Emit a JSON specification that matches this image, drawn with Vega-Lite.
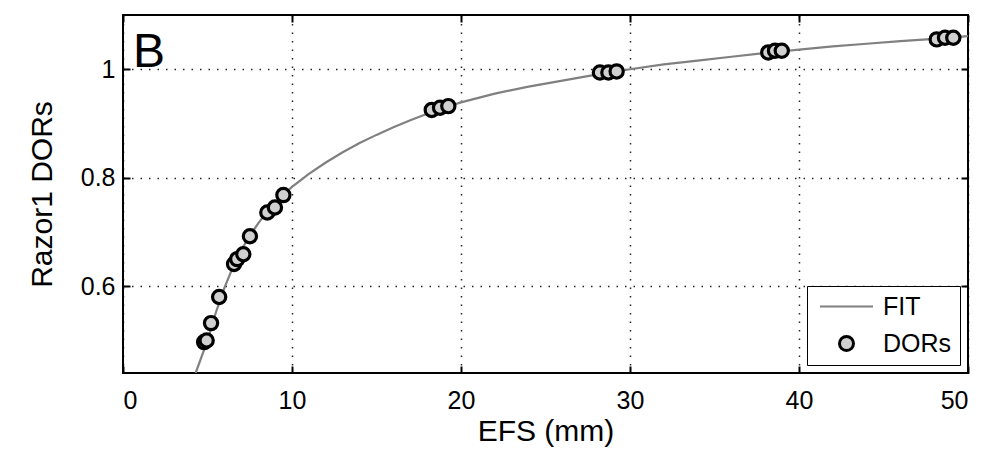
{
  "$schema": "https://vega.github.io/schema/vega-lite/v6.json",
  "autosize": {"type": "none"},
  "width": 845,
  "height": 358,
  "padding": {"left": 123, "top": 15, "right": 39, "bottom": 78},
  "background": "white",
  "config": {
    "view": {"stroke": "black", "strokeWidth": 2},
    "font": "Liberation Sans",
    "axis": {
      "labelFont": "Liberation Sans", "labelFontSize": 25, "labelColor": "black",
      "titleFont": "Liberation Sans", "titleFontSize": 30, "titleFontWeight": "normal", "titleColor": "black",
      "domain": false, "tickColor": "black", "tickWidth": 2, "tickSize": -7,
      "gridColor": "black", "gridDash": [1.5, 7], "gridWidth": 1.5, "gridOpacity": 0.85
    }
  },
  "datasets": {
    "curve": [
      {"efs": 4.3, "dor": 0.44}, {"efs": 5, "dor": 0.5}, {"efs": 5.5, "dor": 0.552}, {"efs": 6, "dor": 0.597},
      {"efs": 6.5, "dor": 0.635}, {"efs": 7, "dor": 0.667}, {"efs": 7.5, "dor": 0.693}, {"efs": 8, "dor": 0.716},
      {"efs": 8.5, "dor": 0.736}, {"efs": 9, "dor": 0.754}, {"efs": 9.5, "dor": 0.769}, {"efs": 10, "dor": 0.783},
      {"efs": 11, "dor": 0.807}, {"efs": 12, "dor": 0.828}, {"efs": 13, "dor": 0.847}, {"efs": 14, "dor": 0.864},
      {"efs": 15, "dor": 0.879}, {"efs": 16, "dor": 0.893}, {"efs": 17, "dor": 0.906}, {"efs": 18, "dor": 0.918},
      {"efs": 19, "dor": 0.929}, {"efs": 20, "dor": 0.939}, {"efs": 22, "dor": 0.955}, {"efs": 24, "dor": 0.968},
      {"efs": 26, "dor": 0.979}, {"efs": 28, "dor": 0.99}, {"efs": 30, "dor": 1.0}, {"efs": 32, "dor": 1.009},
      {"efs": 34, "dor": 1.016}, {"efs": 36, "dor": 1.023}, {"efs": 38, "dor": 1.03}, {"efs": 40, "dor": 1.036},
      {"efs": 42, "dor": 1.042}, {"efs": 44, "dor": 1.047}, {"efs": 46, "dor": 1.052}, {"efs": 48, "dor": 1.056},
      {"efs": 50, "dor": 1.061}
    ],
    "dors": [
      {"efs": 4.8, "dor": 0.497}, {"efs": 4.95, "dor": 0.5}, {"efs": 5.21, "dor": 0.532}, {"efs": 5.69, "dor": 0.58},
      {"efs": 6.57, "dor": 0.641}, {"efs": 6.76, "dor": 0.65}, {"efs": 7.12, "dor": 0.659}, {"efs": 7.51, "dor": 0.692},
      {"efs": 8.54, "dor": 0.736}, {"efs": 8.99, "dor": 0.745}, {"efs": 9.49, "dor": 0.768},
      {"efs": 18.27, "dor": 0.925}, {"efs": 18.76, "dor": 0.929}, {"efs": 19.25, "dor": 0.932},
      {"efs": 28.22, "dor": 0.994}, {"efs": 28.72, "dor": 0.994}, {"efs": 29.21, "dor": 0.996},
      {"efs": 38.18, "dor": 1.031}, {"efs": 38.58, "dor": 1.034}, {"efs": 38.98, "dor": 1.034},
      {"efs": 48.15, "dor": 1.055}, {"efs": 48.64, "dor": 1.058}, {"efs": 49.13, "dor": 1.058}
    ],
    "labels": [{"efs": 1.54, "dor": 1.03, "text": "B"}]
  },
  "layer": [
    {
      "data": {"name": "curve"},
      "mark": {"type": "line", "strokeWidth": 2.2, "clip": true},
      "encoding": {
        "x": {"field": "efs", "type": "quantitative", "scale": {"domain": [0, 50], "nice": false},
              "axis": {"orient": "bottom", "title": "EFS (mm)", "values": [0, 10, 20, 30, 40, 50], "labelPadding": 22, "titlePadding": 3}},
        "y": {"field": "dor", "type": "quantitative", "scale": {"domain": [0.44, 1.1], "nice": false, "zero": false},
              "axis": {"orient": "left", "title": "Razor1 DORs", "values": [0.6, 0.8, 1.0], "format": "~g", "labelPadding": 15, "titlePadding": 23}},
        "stroke": {"datum": "FIT", "type": "nominal",
          "scale": {"domain": ["FIT", "DORs"], "range": ["#808080", "#000000"]},
          "legend": {
            "title": null, "orient": "bottom-right", "offset": 8, "strokeColor": "black", "fillColor": "white",
            "padding": 8, "labelFont": "Liberation Sans", "labelFontSize": 25, "labelColor": "black",
            "symbolSize": 400, "rowPadding": 10, "labelOffset": 24, "symbolOffset": 19, "symbolStrokeWidth": 2,
            "encode": {"symbols": {"update": {
              "shape": {"signal": "datum.value === 'FIT' ? 'M-2.65,0H2.65' : 'M-0.7,0A0.7,0.7,0,1,1,0.7,0A0.7,0.7,0,1,1,-0.7,0Z'"},
              "fill": {"signal": "datum.value === 'FIT' ? 'transparent' : '#d0d0d0'"},
              "stroke": {"signal": "datum.value === 'FIT' ? '#808080' : '#000000'"},
              "strokeWidth": {"signal": "datum.value === 'FIT' ? 2 : 3"}
            }}}
          }
        }
      }
    },
    {
      "data": {"name": "dors"},
      "mark": {"type": "point", "shape": "circle", "size": 175, "strokeWidth": 3.2, "fill": "#d0d0d0", "filled": false, "opacity": 1},
      "encoding": {
        "x": {"field": "efs", "type": "quantitative", "axis": null},
        "y": {"field": "dor", "type": "quantitative", "axis": null},
        "stroke": {"datum": "DORs", "type": "nominal"}
      }
    },
    {
      "data": {"name": "labels"},
      "mark": {"type": "text", "font": "Liberation Sans", "fontSize": 48, "align": "center", "baseline": "middle", "color": "black"},
      "encoding": {
        "x": {"field": "efs", "type": "quantitative", "axis": null},
        "y": {"field": "dor", "type": "quantitative", "axis": null},
        "text": {"field": "text"}
      }
    },
    {
      "data": {"name": "dors"},
      "mark": {"type": "point", "opacity": 0},
      "encoding": {
        "x": {"field": "efs", "type": "quantitative",
              "axis": {"orient": "top", "title": null, "labels": false, "grid": false, "values": [0, 10, 20, 30, 40, 50]}},
        "y": {"field": "dor", "type": "quantitative",
              "axis": {"orient": "right", "title": null, "labels": false, "grid": false, "values": [0.6, 0.8, 1.0]}}
      }
    }
  ],
  "resolve": {"axis": {"x": "independent", "y": "independent"}}
}
